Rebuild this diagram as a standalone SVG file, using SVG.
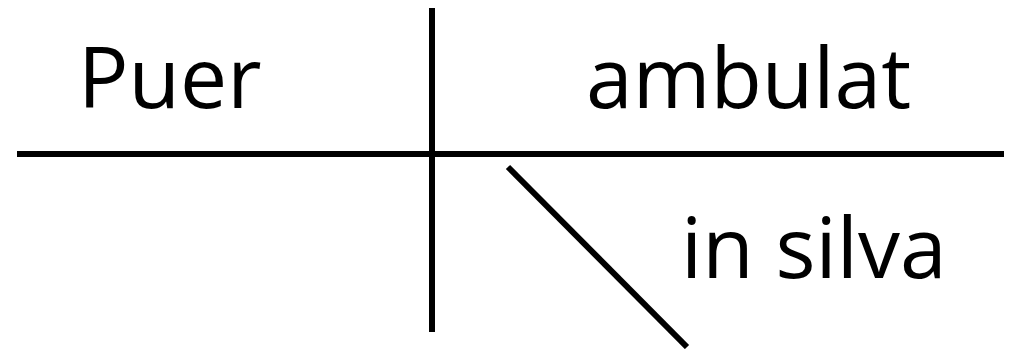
<svg xmlns="http://www.w3.org/2000/svg" width="1025" height="349" viewBox="0 0 1025 349">
<style>
.ln{stroke:#000;stroke-width:6;fill:none}
.t{font-family:"Open Sans","Noto Sans",sans-serif;font-size:84px;fill:#000}
</style>
<rect width="1025" height="349" fill="#fff"/>
<g id="connectors">
<line class="ln" x1="17" y1="154" x2="1004" y2="154"/>
<line class="ln" x1="432" y1="8" x2="432" y2="332"/>
<line class="ln" x1="508" y1="167" x2="687" y2="347"/>
</g>
<g id="subject"><text class="t" x="78" y="108">Puer</text></g>
<g id="verb"><text class="t" x="586" y="108">ambulat</text></g>
<g id="modifier"><text class="t" x="681" y="278">in silva</text></g>
</svg>
